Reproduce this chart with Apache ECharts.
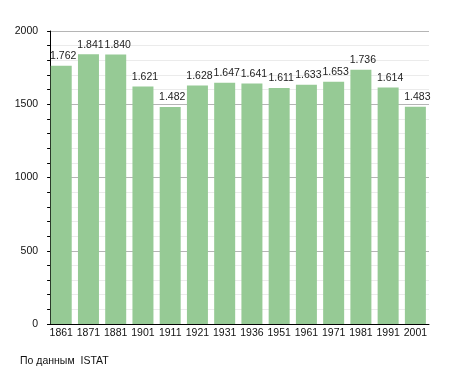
<!DOCTYPE html>
<html>
<head>
<meta charset="utf-8">
<script src="https://cdn.jsdelivr.net/npm/echarts@6/dist/echarts.min.js"></script>
<style>html,body{margin:0;padding:0;background:#fff}#c{width:455px;height:373px}</style>
</head>
<body>
<div id="c"></div>
<script>
var years = ['1861','1871','1881','1901','1911','1921','1931','1936','1951','1961','1971','1981','1991','2001'];
var population = [1762,1841,1840,1621,1482,1628,1647,1641,1611,1633,1653,1736,1614,1483];
var yTicks = [0,500,1000,1500,2000];
var sourceNote = 'По данным  ISTAT';

function fmt(v){ return String(v).replace(/\B(?=(\d{3})+(?!\d))/g,'.'); }
var font = 'Liberation Sans, Arial, sans-serif';
var chart = echarts.init(document.getElementById('c'), null, {renderer:'canvas'});
chart.setOption({
  animation:false,
  backgroundColor:'#fff',
  grid:{left:47.6, right:26, top:31, bottom:49},
  xAxis:{
    type:'category', data:years,
    axisLine:{lineStyle:{color:'#000', width:1}},
    axisTick:{show:false},
    axisLabel:{color:'#111', fontSize:10.5, fontFamily:font, margin:4, interval:0}
  },
  yAxis:{
    type:'value', min:yTicks[0], max:yTicks[yTicks.length-1], interval:500,
    offset:-2.5,
    axisLine:{show:true, lineStyle:{color:'#000'}},
    axisTick:{show:true, length:3, lineStyle:{color:'#000'}},
    minorTick:{show:true, splitNumber:5, length:3, lineStyle:{color:'#000'}},
    splitLine:{show:true, lineStyle:{color:'#b5b5b5'}},
    minorSplitLine:{show:true, lineStyle:{color:'#ebebeb'}},
    axisLabel:{color:'#111', fontSize:10.5, fontFamily:font, margin:12, formatter:function(v){return String(v);}}
  },
  series:[{
    type:'bar', data:population, barWidth:21,
    itemStyle:{color:'#96ca95'},
    label:{show:true, position:'top', distance:4, offset:[2,0], color:'#222', fontSize:10.5, fontFamily:font,
      formatter:function(p){return fmt(p.value);}}
  }],
  graphic:[{type:'text', left:20, top:356, style:{text:sourceNote, fill:'#111', font:'10.5px Liberation Sans, Arial, sans-serif'}}]
});
</script>
</body>
</html>
